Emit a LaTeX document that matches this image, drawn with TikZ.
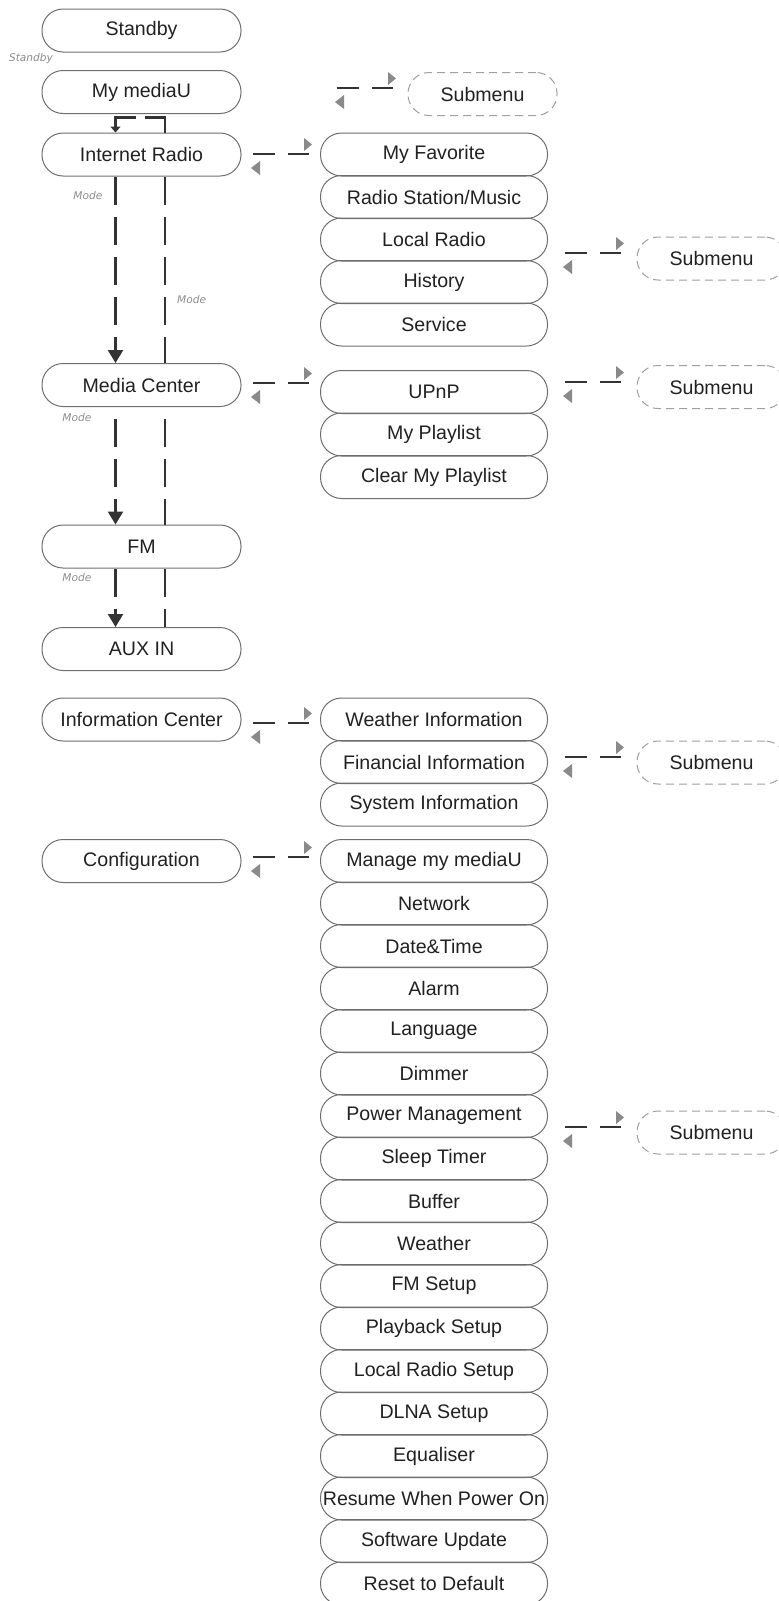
\documentclass[tikz,border=0pt]{standalone}
\usepackage{fontspec}
\setmainfont{Liberation Sans}
\newfontfamily\modefont{DejaVu Sans}
\usepackage{tikz}
\usetikzlibrary{arrows.meta,positioning}
\usepackage{xcolor}
\definecolor{boxdraw}{HTML}{6E6E6E}
\definecolor{subdraw}{HTML}{A0A0A0}
\definecolor{flowdraw}{HTML}{333333}
\definecolor{tipfill}{HTML}{8A8A8A}
\definecolor{modegray}{HTML}{8C8C8C}
\tikzset{menu/.style={draw=boxdraw,line width=0.5pt,rounded corners=10.5pt,minimum height=21.5pt,inner sep=0pt,text=black!87,font=\fontsize{9.8}{11}\selectfont}}
\tikzset{mainmenu/.style={menu,minimum width=99.5pt}}
\tikzset{submenu/.style={menu,minimum width=113.5pt}}
\tikzset{moremenu/.style={menu,draw=subdraw,dash pattern=on 4pt off 2.5pt,minimum width=74.5pt}}
\tikzset{modeline/.style={draw=flowdraw,line width=1.2pt,dash pattern=on 14pt off 6pt}}
\tikzset{modelabel/.style={text=modegray,inner sep=0pt,font=\modefont\itshape\fontsize{5.3}{6}\selectfont}}
\newcommand{\swaparrows}[2]{%
  \draw[flowdraw,line width=1pt,dash pattern=on 11pt off 6.5pt] (#1,#2) -- ++(56,0);
  \fill[tipfill] (#1+51,#2-16) -- (#1+59,#2-9.5) -- (#1+51,#2-3) -- cycle;
  \fill[tipfill] (#1+7,#2+7) -- (#1-2,#2+14) -- (#1+7,#2+21) -- cycle;}

\begin{document}
\begin{tikzpicture}[x=0.5pt,y=-0.5pt,>={Triangle[length=6.5pt,width=7.5pt]}]
\useasboundingbox (0,0) rectangle (779,1601);
\clip (0,0) rectangle (779,1601);
% main menu
\node (stby) [mainmenu] at (141.5,30.5) {Standby};
\node (mymu) [mainmenu] at (141.5,92) {My mediaU};
\node (ir) [mainmenu] at (141.5,154.5) {Internet Radio};
\node (mc) [mainmenu] at (141.5,385) {Media Center};
\node (fm) [mainmenu] at (141.5,546.5) {FM};
\node (aux) [mainmenu] at (141.5,649) {AUX IN};
\node (info) [mainmenu] at (141.5,719.5) {Information Center};
\node (conf) [mainmenu] at (141.5,861) {Configuration};
\node (stbykey) [modelabel] at (31,59) {Standby};
%
\node (fav) [submenu] at (434,154.5) {My Favorite};
\node (rsm) [submenu] at (434,197) {Radio Station/Music};
\node (lr) [submenu] at (434,239.5) {Local Radio};
\node (hist) [submenu] at (434,282) {History};
\node (serv) [submenu] at (434,324.5) {Service};
\node (upnp) [submenu] at (434,392) {UPnP};
\node (mypl) [submenu] at (434,434.5) {My Playlist};
\node (clpl) [submenu] at (434,477) {Clear My Playlist};
\node (wi) [submenu] at (434,719.5) {Weather Information};
\node (fi) [submenu] at (434,762) {Financial Information};
\node (si) [submenu] at (434,804.5) {System Information};
%
\node (mgr) [submenu] at (434,861) {Manage my mediaU};
\node (net) [submenu] at (434,903.5) {Network};
\node (dt) [submenu] at (434,946) {Date\&Time};
\node (alarm) [submenu] at (434,988.5) {Alarm};
\node (lang) [submenu] at (434,1031) {Language};
\node (dim) [submenu] at (434,1073.5) {Dimmer};
\node (pwr) [submenu] at (434,1116) {Power Management};
\node (sleep) [submenu] at (434,1158.5) {Sleep Timer};
\node (buf) [submenu] at (434,1201) {Buffer};
\node (wthr) [submenu] at (434,1243.5) {Weather};
\node (fmset) [submenu] at (434,1286) {FM Setup};
\node (play) [submenu] at (434,1328.5) {Playback Setup};
\node (lrset) [submenu] at (434,1371) {Local Radio Setup};
\node (dlna) [submenu] at (434,1413.5) {DLNA Setup};
\node (eq) [submenu] at (434,1456) {Equaliser};
\node (resume) [submenu] at (434,1498.5) {Resume When Power On};
\node (swup) [submenu] at (434,1541) {Software Update};
\node (reset) [submenu] at (434,1583.5) {Reset to Default};
%
\node (more1) [moremenu] at (482.5,94) {Submenu};
\node (more2) [moremenu] at (711.5,258.5) {Submenu};
\node (more3) [moremenu] at (711.5,387) {Submenu};
\node (more4) [moremenu] at (711.5,762.5) {Submenu};
\node (more5) [moremenu] at (711.5,1132.5) {Submenu};
%
\swaparrows{337}{88}
\swaparrows{253}{154}
\swaparrows{565}{253}
\swaparrows{253}{383}
\swaparrows{565}{382}
\swaparrows{253}{723}
\swaparrows{565}{757}
\swaparrows{253}{857}
\swaparrows{565}{1127}
% mode loop
\coordinate (ldown) at (115.5,0);
\coordinate (lup) at (165,0);
\draw[modeline,dash pattern=on 17.5pt off 4.5pt,-{Triangle[length=3pt,width=5pt]}] (ir.north -| lup) -- ++(0,-15) -| (ir.north -| ldown);
\draw[modeline,->] (ir.south -| ldown) -- node[modelabel,pos=0.1,left=6pt] {Mode} (mc.north -| ldown);
\draw[modeline] (ir.south -| lup) -- node[modelabel,pos=0.66,right=5.5pt] {Mode} (mc.north -| lup);
\draw[modeline,dash phase=14pt,->] (mc.south -| ldown) -- node[modelabel,pos=0.09,left=11.5pt] {Mode} (fm.north -| ldown);
\draw[modeline,dash phase=14pt] (mc.south -| lup) -- (fm.north -| lup);
\draw[modeline,->] (fm.south -| ldown) -- node[modelabel,pos=0.16,left=11.5pt] {Mode} (aux.north -| ldown);
\draw[modeline] (fm.south -| lup) -- (aux.north -| lup);
%
\end{tikzpicture}
\end{document}
